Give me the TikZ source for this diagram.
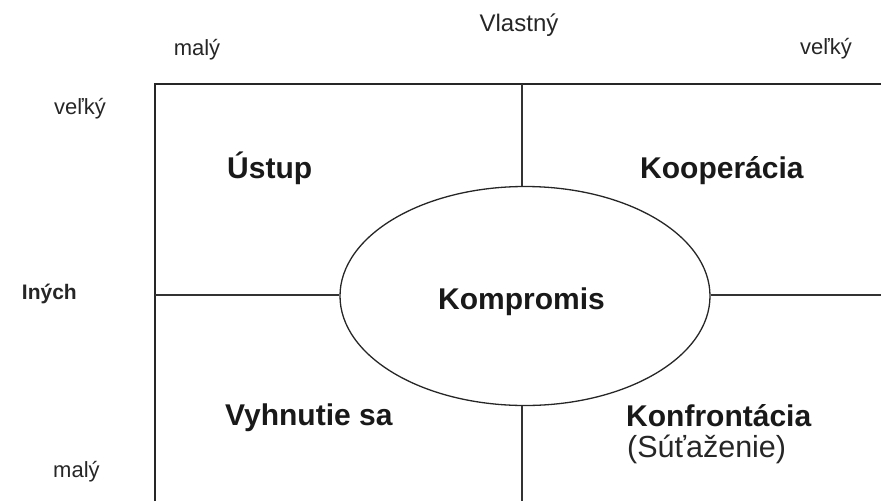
\documentclass[tikz,border=0pt]{standalone}
\usepackage{fontspec}
\setmainfont{Liberation Sans}
\usetikzlibrary{shapes.geometric}
\begin{document}
\begin{tikzpicture}[x=1pt,y=-1pt,
  axislabel/.style={font=\fontsize{22}{24}\selectfont, inner sep=0pt, text=black!85},
  toplabel/.style={font=\fontsize{24}{26}\selectfont, inner sep=0pt, text=black!85},
  sidelabel/.style={font=\fontsize{21}{23}\selectfont\bfseries, inner sep=0pt, text=black!85},
  quadlabel/.style={font=\fontsize{30}{32}\selectfont\bfseries, inner sep=0pt, text=black!90},
  sublabel/.style={font=\fontsize{30.5}{32}\selectfont, inner sep=0pt, text=black!85},
  gridline/.style={draw=black!80, line width=1.2pt},
  frameline/.style={draw=black!85, line width=2pt}]
\useasboundingbox (0,0) rectangle (881,501);
% frame and axes
\coordinate (tl) at (155,84);
\coordinate (tr) at (881,84);
\coordinate (bl) at (155,501);
\coordinate (vtop) at (522,84);
\coordinate (vbot) at (522,501);
\coordinate (hleft) at (155,295);
\coordinate (hright) at (881,295);
\node[ellipse, draw=black!85, line width=1.3pt, minimum width=370pt, minimum height=219pt, inner sep=0pt] (ell) at (525,296) {};
\draw[frameline] (bl) -- (tl) -- (tr);
\draw[gridline] (vtop) -- (ell.north -| vtop);
\draw[gridline] (ell.south -| vbot) -- (vbot);
\draw[gridline] (hleft) -- (ell.west |- hleft);
\draw[gridline] (ell.east |- hright) -- (hright);
% axis labels
\node[toplabel, anchor=base] (vlastny) at (519,31) {Vlastný};
\node[axislabel, anchor=base] (topmaly) at (197,55) {malý};
\node[axislabel, anchor=base] (topvelky) at (826,54) {veľký};
\node[axislabel, anchor=base] (leftvelky) at (80,114) {veľký};
\node[sidelabel, anchor=base east] (inych) at (77,299) {Iných};
\node[axislabel, anchor=base west] (leftmaly) at (53,477) {malý};
% quadrant labels
\node[quadlabel, anchor=base west] (ustup) at (227,178) {Ústup};
\node[quadlabel, anchor=base west] (koop) at (640,178) {Kooperácia};
\node[quadlabel, anchor=base west] (komp) at (438,309) {Kompromis};
\node[quadlabel, anchor=base west] (vyhn) at (225,425) {Vyhnutie sa};
\node[quadlabel, anchor=base west] (konf) at (626,426) {Konfrontácia};
\node[sublabel, anchor=base west] (sut) at (627,457) {(Súťaženie)};
\end{tikzpicture}
\end{document}
